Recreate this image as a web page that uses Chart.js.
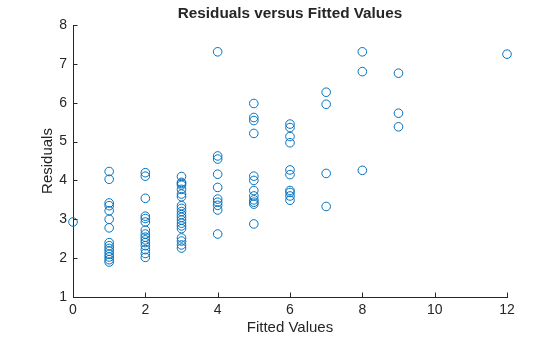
<!DOCTYPE html>
<html>
<head>
<meta charset="utf-8">
<script src="https://cdn.jsdelivr.net/npm/chart.js@4.4.1/dist/chart.umd.min.js"></script>
<style>
  html, body { margin: 0; padding: 0; background: #fff; }
  #wrap { width: 560px; height: 337px; position: relative; }
</style>
</head>
<body>
<div id="wrap"><canvas id="c" width="560" height="337"></canvas></div>
<script>
// Fitted value for each observation
const fitted = [
  0,
  1, 1, 1, 1, 1, 1, 1, 1, 1, 1, 1, 1, 1, 1, 1,
  2, 2, 2, 2, 2, 2, 2, 2, 2, 2, 2, 2, 2, 2, 2,
  3, 3, 3, 3, 3, 3, 3, 3, 3, 3, 3, 3, 3, 3, 3, 3, 3, 3, 3, 3,
  4, 4, 4, 4, 4, 4, 4, 4, 4, 4,
  5, 5, 5, 5, 5, 5, 5, 5, 5, 5, 5, 5,
  6, 6, 6, 6, 6, 6, 6, 6, 6, 6,
  7, 7, 7, 7,
  8, 8, 8,
  9, 9, 9,
  12
];
// Residual for each observation (same order as fitted)
const residuals = [
  2.93,
  4.23, 4.03, 3.42, 3.35, 3.22, 3.00, 2.78, 2.40, 2.32, 2.25, 2.18, 2.10, 2.03, 1.96, 1.90,
  4.20, 4.11, 3.54, 3.08, 3.02, 2.93, 2.72, 2.62, 2.54, 2.47, 2.40, 2.32, 2.22, 2.12, 2.02,
  4.10, 3.95, 3.92, 3.88, 3.77, 3.65, 3.58, 3.35, 3.28, 3.20, 3.12, 3.05, 2.98, 2.90, 2.83, 2.76, 2.52, 2.44, 2.34, 2.26,
  7.31, 4.63, 4.55, 4.16, 3.82, 3.52, 3.44, 3.36, 3.24, 2.62,
  5.98, 5.62, 5.54, 5.21, 4.11, 4.00, 3.74, 3.60, 3.50, 3.44, 3.39, 2.88,
  5.45, 5.36, 5.13, 4.97, 4.27, 4.15, 3.74, 3.69, 3.60, 3.49,
  6.27, 5.96, 4.18, 3.33,
  7.31, 6.80, 4.26,
  6.76, 5.73, 5.38,
  7.25
];
const xTicks = [0, 2, 4, 6, 8, 10, 12];
const yTicks = [1, 2, 3, 4, 5, 6, 7, 8];
const chartTitle = 'Residuals versus Fitted Values';
const xTitle = 'Fitted Values';
const yTitle = 'Residuals';

const FONT = "'Liberation Sans', Arial, Helvetica, sans-serif";
const INK = '#262626';
const BLUE = 'rgb(0,114,189)';

// Title centred over the plot area, plus inward tick marks on both axes
const decorations = {
  id: 'decorations',
  afterDraw(chart) {
    const { ctx, chartArea: a, scales: { x, y } } = chart;
    ctx.save();
    ctx.strokeStyle = INK;
    ctx.lineWidth = 1;
    ctx.beginPath();
    xTicks.forEach(v => {
      const px = Math.round(x.getPixelForValue(v)) + 0.5;
      ctx.moveTo(px, a.bottom);
      ctx.lineTo(px, a.bottom - 4.5);
    });
    yTicks.forEach(v => {
      const py = Math.round(y.getPixelForValue(v)) + 0.5;
      ctx.moveTo(a.left, py);
      ctx.lineTo(a.left + 4.5, py);
    });
    ctx.stroke();
    ctx.fillStyle = INK;
    ctx.font = 'bold 15.3px ' + FONT;
    ctx.textAlign = 'center';
    ctx.textBaseline = 'middle';
    ctx.fillText(chartTitle, (a.left + a.right) / 2, 14);
    ctx.restore();
  }
};

new Chart(document.getElementById('c'), {
  type: 'scatter',
  data: {
    datasets: [{
      data: fitted.map((f, i) => ({ x: f, y: residuals[i] })),
      clip: false,
      pointStyle: 'circle',
      pointRadius: 4.3,
      pointBorderWidth: 1,
      pointBorderColor: BLUE,
      pointBackgroundColor: 'rgba(0,0,0,0)',
      pointHoverRadius: 4.3
    }]
  },
  options: {
    responsive: false,
    animation: false,
    events: [],
    layout: { padding: { top: 25, right: 53, bottom: 0, left: 0 } },
    plugins: { legend: { display: false }, tooltip: { enabled: false } },
    scales: {
      x: {
        type: 'linear',
        min: 0, max: 12,
        afterFit(s) { s.height = 40; },
        afterBuildTicks(s) { s.ticks = xTicks.map(v => ({ value: v })); },
        grid: { display: false, drawTicks: false },
        border: { display: true, color: INK, width: 1 },
        ticks: { color: INK, font: { family: FONT, size: 14 }, padding: 5, maxRotation: 0 },
        title: { display: true, text: xTitle, color: INK, font: { family: FONT, size: 15 }, padding: { top: 0, bottom: 0 } }
      },
      y: {
        type: 'linear',
        min: 1, max: 8,
        afterFit(s) { s.width = 73; },
        afterBuildTicks(s) { s.ticks = yTicks.map(v => ({ value: v })); },
        grid: { display: false, drawTicks: false },
        border: { display: true, color: INK, width: 1 },
        ticks: { color: INK, font: { family: FONT, size: 14 }, padding: 6 },
        title: { display: true, text: yTitle, color: INK, font: { family: FONT, size: 15 }, padding: { top: 39, bottom: 0 } }
      }
    }
  },
  plugins: [decorations]
});
</script>
</body>
</html>
